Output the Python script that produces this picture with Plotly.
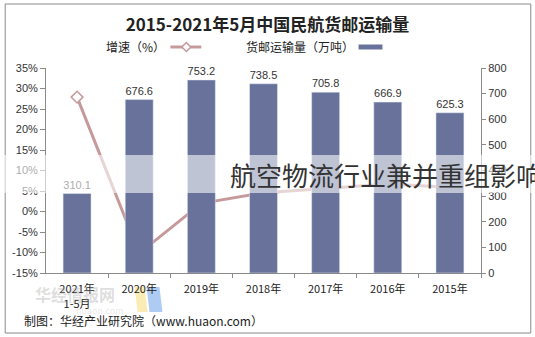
import plotly.graph_objects as go

# 民航货邮运输量（万吨）与增速（%）
years = ["2015年", "2016年", "2017年", "2018年", "2019年", "2020年", "2021年<br>1-5月"]
cargo = [625.3, 666.9, 705.8, 738.5, 753.2, 676.6, 310.1]
growth = [5.9, 6.7, 5.6, 4.6, 2.0, -10.2, 27.9]
cargo_labels = [f"{v:.1f}" for v in cargo]

pct_ticks = list(range(-15, 40, 5))
vol_ticks = list(range(0, 900, 100))

W, H = 535, 337
L, R, T, B = 44, 481, 68, 273          # plot area in pixels
PW, PH = R - L, B - T

def px(x):
    return (x - L) / PW

def py(y):
    return (B - y) / PH

BAR = "rgb(104,114,155)"
LINE = "rgb(198,154,154)"
FONT = "Noto Sans CJK SC, Liberation Sans, sans-serif"
NUMFONT = "Liberation Sans, sans-serif"

fig = go.Figure()
fig.add_trace(go.Bar(
    x=years, y=cargo, yaxis="y2", marker_color=BAR,
    text=cargo_labels, textposition="outside", cliponaxis=False,
    textfont=dict(size=11, color="#333", family=NUMFONT),
    showlegend=False,
))
fig.add_trace(go.Scatter(
    x=years, y=growth, yaxis="y", mode="lines+markers",
    line=dict(color=LINE, width=3),
    marker=dict(symbol="diamond", size=9, color="white",
                line=dict(color=LINE, width=1.5)),
    cliponaxis=False, showlegend=False,
))

shapes = []
annotations = []

# outer frame
shapes.append(dict(type="rect", xref="paper", yref="paper",
                   x0=px(3), x1=px(531), y0=py(333), y1=py(4),
                   line=dict(color="#8a8a8a", width=1), layer="below"))

# site watermark (faint, sits under the axis labels)
annotations.append(dict(text="<b>华经情报网</b>", xref="paper", yref="paper",
                        x=px(31), y=py(294), xanchor="left", yanchor="middle",
                        showarrow=False, font=dict(size=16, color="rgba(160,160,160,0.35)", family=FONT)))
annotations.append(dict(text="huaon.com", xref="paper", yref="paper",
                        x=px(72), y=py(310), xanchor="left", yanchor="middle",
                        showarrow=False, font=dict(size=9, color="rgba(160,160,160,0.25)", family=FONT)))
shapes.append(dict(type="path", xref="paper", yref="paper",
                   path=f"M {px(133)} {py(287)} L {px(143)} {py(287)} L {px(146)} {py(312)} L {px(136)} {py(312)} Z",
                   fillcolor="rgba(247,220,120,0.55)", line=dict(width=0), layer="below"))
shapes.append(dict(type="path", xref="paper", yref="paper",
                   path=f"M {px(145)} {py(287)} L {px(158)} {py(287)} L {px(161)} {py(312)} L {px(148)} {py(312)} Z",
                   fillcolor="rgba(120,170,235,0.6)", line=dict(width=0), layer="below"))

# legend: growth line
annotations.append(dict(text="增速（%）", xref="paper", yref="paper",
                        x=px(166), y=py(47), xanchor="right", yanchor="middle",
                        showarrow=False, font=dict(size=12, color="#222", family=FONT)))
shapes.append(dict(type="line", xref="paper", yref="paper",
                   x0=px(169), x1=px(200), y0=py(47), y1=py(47),
                   line=dict(color=LINE, width=3)))
dx, dy = 4.5, 4.5
shapes.append(dict(type="path", xref="paper", yref="paper",
                   path=(f"M {px(185-dx)} {py(47)} L {px(185)} {py(47-dy)} "
                         f"L {px(185+dx)} {py(47)} L {px(185)} {py(47+dy)} Z"),
                   fillcolor="white", line=dict(color=LINE, width=1.5)))

# legend: cargo bars
annotations.append(dict(text="货邮运输量（万吨）", xref="paper", yref="paper",
                        x=px(355), y=py(47), xanchor="right", yanchor="middle",
                        showarrow=False, font=dict(size=12, color="#222", family=FONT)))
shapes.append(dict(type="rect", xref="paper", yref="paper",
                   x0=px(358), x1=px(382), y0=py(49.5), y1=py(44.5),
                   fillcolor=BAR, line=dict(width=0)))

# footer
annotations.append(dict(text="制图：华经产业研究院（www.huaon.com）", xref="paper", yref="paper",
                        x=px(20), y=py(320), xanchor="left", yanchor="middle",
                        showarrow=False, font=dict(size=12, color="#222", family=FONT)))

# headline banner across the chart
shapes.append(dict(type="rect", xref="paper", yref="paper",
                   x0=px(0), x1=px(535), y0=py(193), y1=py(155),
                   fillcolor="rgba(255,255,255,0.58)", line=dict(width=0), layer="above"))
annotations.append(dict(text="航空物流行业兼并重组影响", xref="paper", yref="paper",
                        x=px(227), y=py(174), xanchor="left", yanchor="middle",
                        showarrow=False, font=dict(size=26, color="#333", family=FONT)))

fig.update_layout(
    width=W, height=H,
    margin=dict(l=L, r=W - R, t=T, b=H - B),
    paper_bgcolor="white", plot_bgcolor="white",
    title=dict(text="<b>2015-2021年5月中国民航货邮运输量</b>",
               x=0.5, xref="container", xanchor="center",
               y=1 - 25 / H, yref="container", yanchor="middle",
               font=dict(size=17, color="#222", family=FONT)),
    bargap=0.55,
    xaxis=dict(autorange="reversed", showline=True, linecolor="#8a8a8a",
               ticks="outside", tickson="boundaries", ticklen=4, tickcolor="#8a8a8a",
               tickangle=0, ticklabelstandoff=6, showgrid=False,
               tickfont=dict(size=11, color="#222", family=FONT)),
    yaxis=dict(side="left", range=[-15, 35], tickvals=pct_ticks,
               ticktext=[f"{v}%" for v in pct_ticks],
               showline=True, linecolor="#8a8a8a", ticks="outside", ticklen=5,
               tickcolor="#8a8a8a", showgrid=False, zeroline=False,
               tickfont=dict(size=11, color="#333", family=NUMFONT)),
    yaxis2=dict(side="right", overlaying="y", range=[0, 800], tickvals=vol_ticks,
                showline=True, linecolor="#8a8a8a", ticks="outside", ticklen=4,
                tickcolor="#8a8a8a", showgrid=False, zeroline=False,
                tickfont=dict(size=11, color="#333", family=NUMFONT)),
    shapes=shapes, annotations=annotations,
    font=dict(family=FONT),
)

fig.write_html("out.html")
